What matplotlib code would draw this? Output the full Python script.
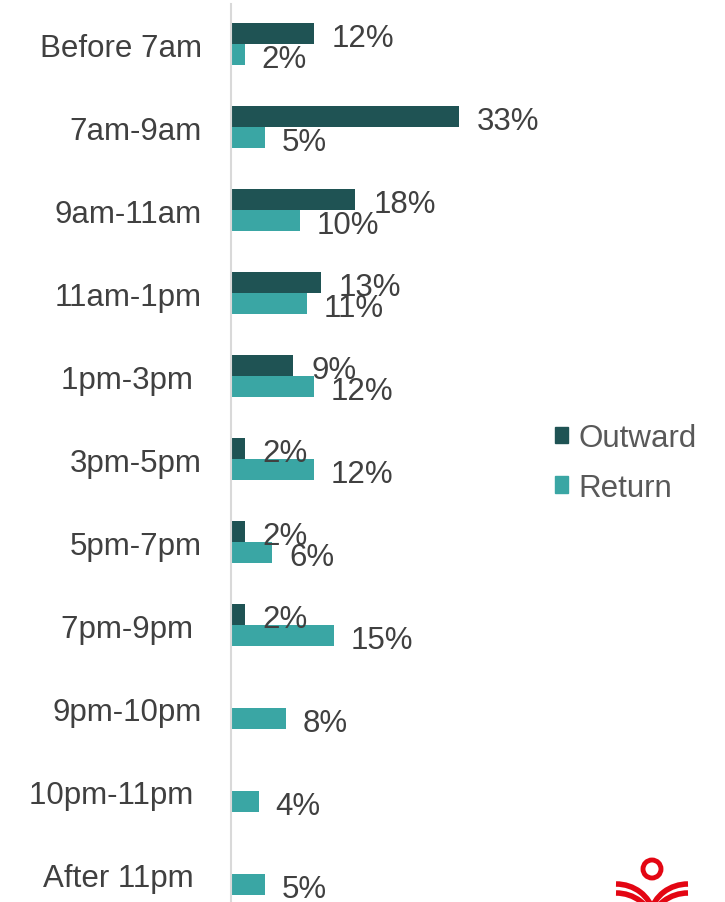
import matplotlib.pyplot as plt
from matplotlib.patches import Patch, Circle, Arc

plt.rcParams['font.family'] = ['Liberation Sans', 'DejaVu Sans']

# данные
categories = ['Before 7am', '7am-9am', '9am-11am', '11am-1pm', '1pm-3pm ', '3pm-5pm',
              '5pm-7pm', '7pm-9pm ', '9pm-10pm', '10pm-11pm ', 'After 11pm ']
outward = [12, 33, 18, 13, 9, 2, 2, 2, None, None, None]
ret = [2, 5, 10, 11, 12, 12, 6, 15, 8, 4, 5]

c_out = '#1f5354'
c_ret = '#3aa6a4'
txt = '#404040'
fs = 22.5

W, H = 725, 903
fig = plt.figure(figsize=(W / 100, H / 100), dpi=100)
ax = fig.add_axes([231 / W, 0, (720 - 231) / W, 1 - 5 / H])

h = 0.253
for i, (o, r) in enumerate(zip(outward, ret)):
    if o is not None:
        ax.barh(i - h / 2, o, height=h, color=c_out)
        ax.annotate(f'{o}%', (o, i - h / 2), xytext=(13, -3), textcoords='offset points',
                    va='center', ha='left', fontsize=fs, color=txt)
    ax.barh(i + h / 2, r, height=h, color=c_ret)
    ax.annotate(f'{r}%', (r, i + h / 2), xytext=(12, -3), textcoords='offset points',
                va='center', ha='left', fontsize=fs, color=txt)

ax.set_xlim(0, 70.9)
ax.set_ylim(10.337, -0.482)
ax.set_yticks(range(len(categories)))
ax.set_yticklabels(categories, fontsize=fs, color=txt)
ax.tick_params(axis='y', length=0, pad=21)
ax.set_xticks([])
for s in ['top', 'right', 'bottom']:
    ax.spines[s].set_visible(False)
ax.spines['left'].set_color('#d9d9d9')
ax.spines['left'].set_linewidth(1.5)

handles = [Patch(color=c_out, label='Outward'), Patch(color=c_ret, label='Return')]
fig.legend(handles=handles, loc='center left', bbox_to_anchor=(539 / W, 1 - 464 / H),
           frameon=False, fontsize=fs, labelcolor='#595959', borderpad=0,
           handlelength=0.42, handleheight=0.42, handletextpad=0.35, labelspacing=0.62)

# логотип в углу
lg = fig.add_axes([600 / W, 0, 125 / W, 63 / H])
lg.set_xlim(600, 725)
lg.set_ylim(903, 840)
lg.axis('off')
red = '#e30613'
lg.add_patch(Circle((652, 870), 9, fill=False, lw=3.5, color=red))
for dy in (0, 9):
    lg.add_patch(Arc((616, 920 + dy), 76, 70, theta1=-90, theta2=-10, lw=4, color=red))
    lg.add_patch(Arc((688, 920 + dy), 76, 70, theta1=190, theta2=270, lw=4, color=red))

fig.savefig('out.png', dpi=100)
